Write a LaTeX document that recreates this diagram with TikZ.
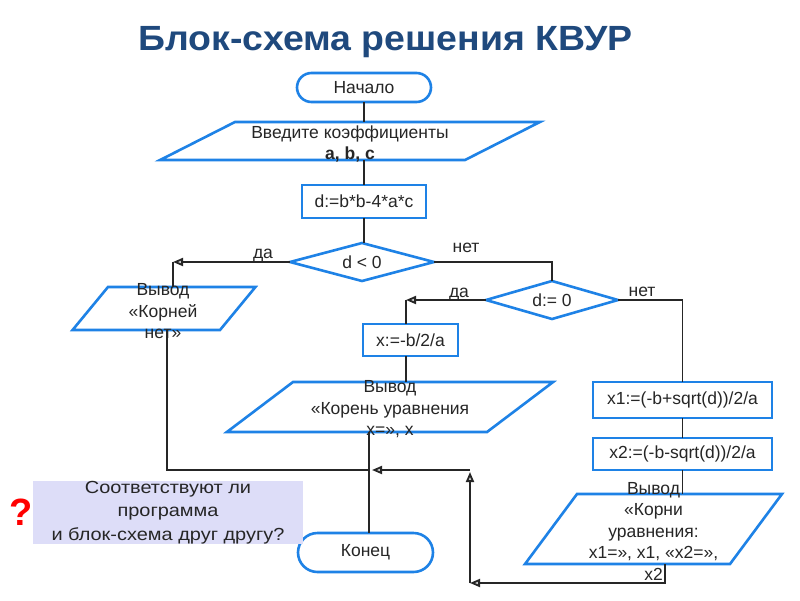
\documentclass[tikz,border=0pt]{standalone}
\usepackage{fontspec}
\setmainfont{Liberation Sans}
\newfontfamily\titlefont[FakeStretch=1.07]{Liberation Sans}
\newfontfamily\askfont[FakeStretch=1.14]{Liberation Sans}
\usetikzlibrary{shapes.geometric,arrows.meta,positioning}

\definecolor{shapeblue}{RGB}{30,130,230}
\definecolor{titleblue}{RGB}{31,73,125}
\definecolor{askfill}{RGB}{221,221,248}
\newcommand{\blockfont}{\fontsize{17.5}{21.5}\selectfont}

\begin{document}
\begin{tikzpicture}[x=1pt,y=-1pt,
  >={Triangle[length=10pt,width=8pt,fill=gray!40]},
  line/.style={draw=black!85,line width=1.8pt},
  blk/.style={draw=shapeblue,line width=2.6pt,outer sep=0pt,inner sep=0pt,font=\blockfont,text=black!85},
  proc/.style={blk,rectangle},
  term/.style={blk,rectangle,rounded corners=#1},
  cond/.style={blk,diamond},
  io/.style={blk,trapezium},
  every label/.style={font=\blockfont,align=center,inner sep=0pt,text=black!85},
  lbl/.style={font=\blockfont,anchor=base,inner sep=0pt,text=black!85}]
\path[use as bounding box,fill=white] (0,0) rectangle (800,600);

\node[font=\titlefont\fontsize{35}{35}\selectfont\bfseries,text=titleblue,anchor=base,inner sep=0pt] (title) at (385.5,50) {Блок-схема решения КВУР};

% main column
\node[term=14.5pt,minimum width=134pt,minimum height=29pt] (start) at (364,87.5) {Начало};
\node[io,trapezium left angle=26.9,trapezium right angle=153.1,inner xsep=115pt,inner ysep=19pt,
  label={[yshift=-3pt]center:{Введите коэффициенты\\\textbf{a, b, c}}}] (input) at (350,141) {};
\node[proc,minimum width=124pt,minimum height=33pt] (disc) at (364,201.5) {d:=b*b-4*a*c};
\node[cond,minimum width=144pt,minimum height=38pt,label=center:{d < 0}] (neg) at (362,262) {};

% d<0 : no roots
\node[io,trapezium left angle=50.5,trapezium right angle=129.5,inner xsep=56pt,inner ysep=21.5pt,
  label={[xshift=-1pt,yshift=-3pt]center:{Вывод\\«Корней\\нет»}}] (nokorn) at (164,308.5) {};

% d>=0
\node[cond,minimum width=132pt,minimum height=38pt,label=center:{d:= 0}] (iszero) at (552,300) {};
\node[proc,minimum width=95pt,minimum height=32pt] (single) at (410.5,340) {x:=-b/2/a};
\node[io,trapezium left angle=37.1,trapezium right angle=142.9,inner xsep=97pt,inner ysep=25pt,
  label={[yshift=-2.5pt]center:{Вывод\\«Корень уравнения\\x=», x}}] (onekorn) at (390,407) {};
\node[proc,minimum width=179pt,minimum height=36pt] (x1box) at (682.5,400) {x1:=(-b+sqrt(d))/2/a};
\node[proc,minimum width=179pt,minimum height=32pt] (x2box) at (682.5,454) {x2:=(-b-sqrt(d))/2/a};
\node[io,trapezium left angle=53.4,trapezium right angle=126.6,inner xsep=76.5pt,inner ysep=35pt,
  label={[yshift=-2pt]center:{Вывод\\«Корни\\уравнения:\\x1=», x1, «x2=»,\\x2}}] (twokorn) at (653.5,529) {};
\node[term=19.5pt,minimum width=135pt,minimum height=39pt] (finish) at (365.5,552.5) {Конец};

% question
\node[fill=askfill,minimum width=270pt,minimum height=61pt,inner sep=0pt,align=center,
  font=\askfont\fontsize{17.5}{23.5}\selectfont,text=black!85] (ask) at (168,512.5) {Соответствуют ли\\программа\\и блок-схема друг другу?};
\node[font=\fontsize{38}{38}\selectfont\bfseries,text=red,inner sep=0pt] (mark) at (21,512) {?};

% branch labels
\node[lbl] (yesA) at (263,258) {да};
\node[lbl] (noA) at (466,252) {нет};
\node[lbl] (yesB) at (459,297) {да};
\node[lbl] (noB) at (642,296) {нет};

\coordinate (yes1) at (173,262);
\coordinate (yes2) at (406,300);
\coordinate (left1) at (167,470);
\coordinate (join) at (369,470);
\coordinate (up) at (470,470);
\coordinate (low) at (470,583);
\coordinate (out3) at (665,583);

\begin{scope}[line]
\draw (start.south) -- (start.south |- input.north);
\draw (disc.north |- input.south) -- (disc.north);
\draw (disc.south) -- (disc.south |- neg.north);
\draw[->] (neg.west) -- (yes1);
\draw (yes1) -- (yes1 |- nokorn.north);
\draw (neg.east) -| (iszero.north);
\draw[->] (iszero.west) -- (yes2);
\draw (yes2) -- (yes2 |- single.north);
\draw (yes2 |- single.south) -- (yes2 |- onekorn.north);
\draw (iszero.east) -| (x1box.north);
\draw (x1box) -- (x2box);
\draw (x2box.south) -- (x2box.south |- twokorn.north);
\draw (left1 |- nokorn.south) -- (left1) -- (join);
\draw (join |- onekorn.south) -- (join |- finish.north);
\draw[->] (out3 |- twokorn.south) -- (out3) -- (low);
\draw[->,shorten >=2pt] (low) -- (up);
\draw[->,shorten >=3pt] (up) -- (join);
\end{scope}
\end{tikzpicture}
\end{document}
